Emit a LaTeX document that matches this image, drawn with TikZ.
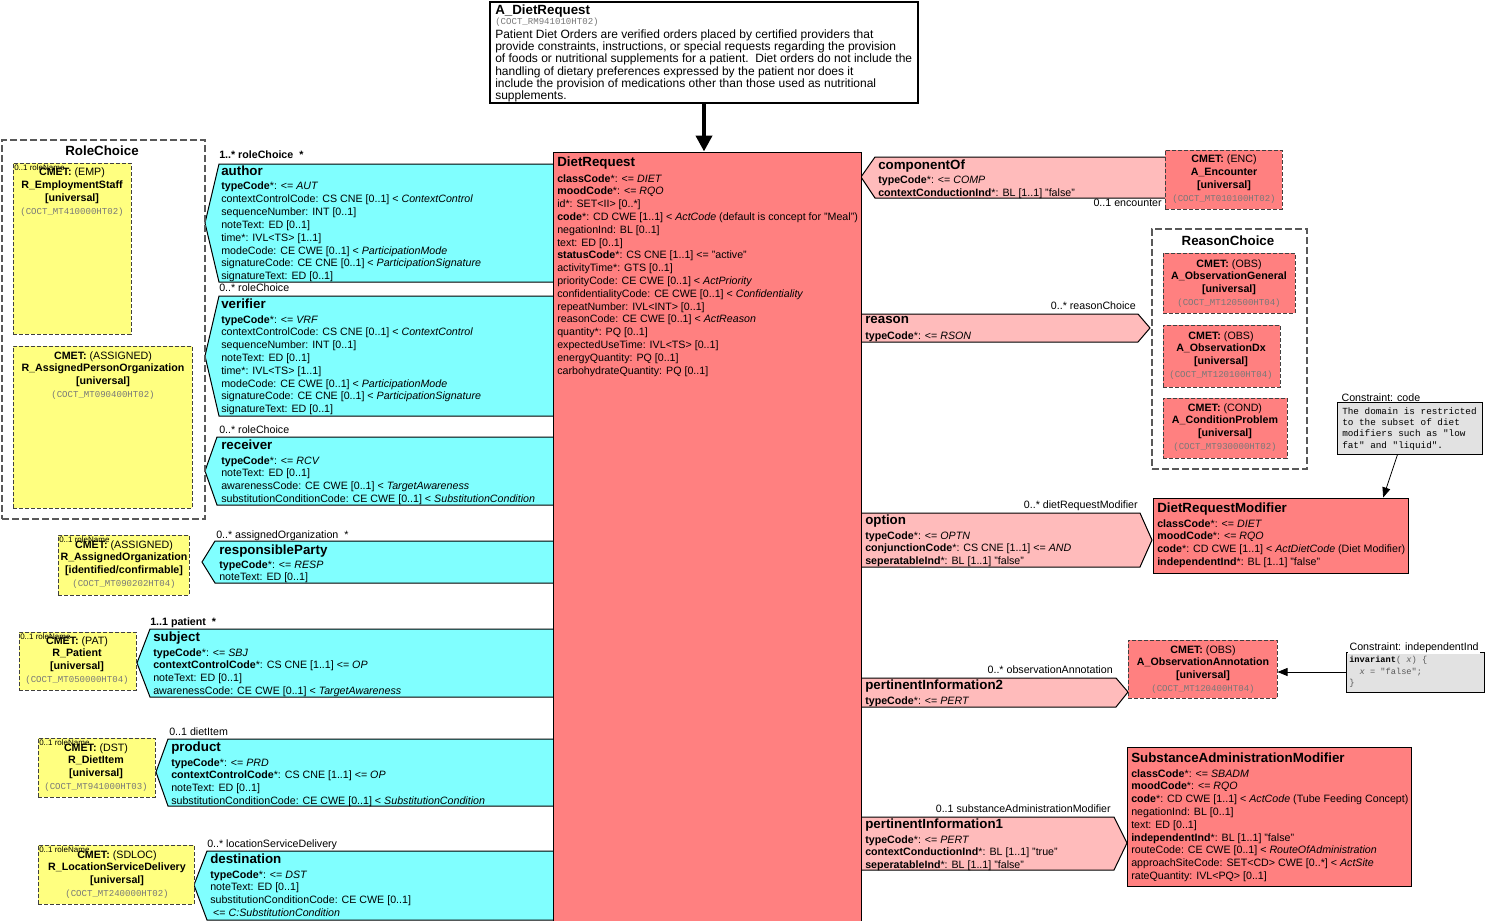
\documentclass[tikz,border=0pt]{standalone}
\usepackage{fontspec}
\setmainfont{Liberation Sans}
\newfontfamily\monofont{Liberation Mono}
\usepackage{tikz}
\usetikzlibrary{arrows.meta,positioning,fit}

\definecolor{actred}{RGB}{255,128,128}
\definecolor{actpink}{RGB}{255,187,187}
\definecolor{rolecyan}{RGB}{128,255,255}
\definecolor{cmetyellow}{RGB}{255,255,128}
\definecolor{notegray}{RGB}{226,226,226}
\definecolor{codegray}{RGB}{120,120,120}
\newcommand{\cmetid}[1]{{\monofont\fontsize{6.8}{8}\selectfont\color{codegray}#1}}

\tikzset{
  attr/.style={anchor=north west, inner sep=0pt, align=left, font=\fontsize{8}{9.6}\selectfont},
  clsname/.style={anchor=north west, inner sep=0pt, font=\fontsize{10}{12}\selectfont\bfseries},
  assoc/.style={anchor=north west, inner sep=0pt, font=\fontsize{8}{9.6}\selectfont},
  cmettext/.style={anchor=north, inner sep=0pt, align=center, font=\fontsize{8}{9.7}\selectfont},
  rolename/.style={anchor=north west, inner sep=0pt, font=\fontsize{6}{7}\selectfont},
  classbox/.style={draw=black, line width=0.75pt, fill=actred, inner sep=0pt},
  cmetbox/.style={draw=black!75, line width=0.75pt, dash pattern=on 3pt off 1.5pt, inner sep=0pt},
  choicebox/.style={draw=black!65, line width=1pt, dash pattern=on 5pt off 2.5pt, inner sep=0pt},
  ptcp/.style={draw=black, line width=0.75pt, fill=rolecyan},
  actrel/.style={draw=black, line width=0.75pt, fill=actpink},
  notebox/.style={draw=black, line width=0.75pt, fill=notegray, inner sep=0pt},
  notetitle/.style={anchor=north west, fill=white, inner xsep=1pt, inner ysep=0.5pt, font=\fontsize{8}{9.6}\selectfont},
  notetext/.style={anchor=north west, inner sep=0pt, align=left, font=\monofont\fontsize{7}{8.6}\selectfont},
  notearrow/.style={line width=0.6pt, -{Triangle[width=6pt,length=7.5pt]}}
}

\begin{document}
\begin{tikzpicture}[x=0.75pt,y=-0.75pt]
\useasboundingbox (0,0) rectangle (1486,921);

% participations on the left
\draw[ptcp] (553,164) -- (219,164) -- (205,223) -- (219,282) -- (553,282);
\draw[ptcp] (553,296) -- (219,296) -- (205,356) -- (219,416) -- (553,416);
\draw[ptcp] (553,437) -- (217,437) -- (205,471) -- (217,505) -- (553,505);
\draw[ptcp] (553,541) -- (215,541) -- (202,562) -- (215,583) -- (553,583);
\draw[ptcp] (553,629) -- (150,629) -- (137,663) -- (150,697) -- (553,697);
\draw[ptcp] (553,739) -- (168,739) -- (156,772) -- (168,806) -- (553,806);
\draw[ptcp] (553,851) -- (207,851) -- (194,885) -- (207,920) -- (553,920);

% act relationships on the right
\draw[actrel] (1165,157) -- (875,157) -- (861,177) -- (875,198) -- (1165,198);
\draw[actrel] (861,314) -- (1138,314) -- (1150,328) -- (1138,342) -- (861,342);
\draw[actrel] (861,513) -- (1140,513) -- (1152,540) -- (1140,567) -- (861,567);
\draw[actrel] (861,678) -- (1116,678) -- (1128,692) -- (1116,707) -- (861,707);
\draw[actrel] (861,817) -- (1114,817) -- (1127,843) -- (1114,870) -- (861,870);

% choice boxes
\node[choicebox, fit={(2,140) (205,519)}] (rolechoice) {};
\node[choicebox, fit={(1152,229) (1307,469)}] (reasonchoice) {};
\node[clsname, anchor=north] (rolechoice-lbl) at (102,146) {RoleChoice};
\node[clsname, anchor=north] (reasonchoice-lbl) at (1228,236) {ReasonChoice};

% CMET boxes
\node[cmetbox, fill=cmetyellow, fit={(13,163) (131,334)}] (empstaff) {};
\node[cmetbox, fill=cmetyellow, fit={(13,346) (192,508)}] (assignedperson) {};
\node[cmetbox, fill=cmetyellow, fit={(58,535) (189,595)}] (assignedorg) {};
\node[cmetbox, fill=cmetyellow, fit={(19,632) (136,690)}] (patient) {};
\node[cmetbox, fill=cmetyellow, fit={(38,738) (155,797)}] (dietitem) {};
\node[cmetbox, fill=cmetyellow, fit={(38,845) (194,904)}] (locsvc) {};
\node[cmetbox, fill=actred, fit={(1165,150) (1282,209)}] (encounter) {};
\node[cmetbox, fill=actred, fit={(1163,253) (1295,313)}] (obsgeneral) {};
\node[cmetbox, fill=actred, fit={(1163,325) (1280,387)}] (obsdx) {};
\node[cmetbox, fill=actred, fit={(1163,398) (1287,458)}] (condproblem) {};
\node[cmetbox, fill=actred, fit={(1128,640) (1277,698)}] (obsannot) {};

\node[cmettext] (empstaff-txt) at (72,168) {\textbf{CMET:} (EMP)\\\textbf{R\_EmploymentStaff}\\\textbf{[universal]}\\\cmetid{(COCT\_MT410000HT02)}};
\node[cmettext] (assignedperson-txt) at (103,351) {\textbf{CMET:} (ASSIGNED)\\\textbf{R\_AssignedPersonOrganization}\\\textbf{[universal]}\\\cmetid{(COCT\_MT090400HT02)}};
\node[cmettext] (assignedorg-txt) at (124,540) {\textbf{CMET:} (ASSIGNED)\\\textbf{R\_AssignedOrganization}\\\textbf{[identified/confirmable]}\\\cmetid{(COCT\_MT090202HT04)}};
\node[cmettext] (patient-txt) at (77,636) {\textbf{CMET:} (PAT)\\\textbf{R\_Patient}\\\textbf{[universal]}\\\cmetid{(COCT\_MT050000HT04)}};
\node[cmettext] (dietitem-txt) at (96,743) {\textbf{CMET:} (DST)\\\textbf{R\_DietItem}\\\textbf{[universal]}\\\cmetid{(COCT\_MT941000HT03)}};
\node[cmettext] (locsvc-txt) at (117,850) {\textbf{CMET:} (SDLOC)\\\textbf{R\_LocationServiceDelivery}\\\textbf{[universal]}\\\cmetid{(COCT\_MT240000HT02)}};
\node[cmettext] (encounter-txt) at (1224,155) {\textbf{CMET:} (ENC)\\\textbf{A\_Encounter}\\\textbf{[universal]}\\\cmetid{(COCT\_MT010100HT02)}};
\node[cmettext] (obsgeneral-txt) at (1229,259) {\textbf{CMET:} (OBS)\\\textbf{A\_ObservationGeneral}\\\textbf{[universal]}\\\cmetid{(COCT\_MT120500HT04)}};
\node[cmettext] (obsdx-txt) at (1221,331) {\textbf{CMET:} (OBS)\\\textbf{A\_ObservationDx}\\\textbf{[universal]}\\\cmetid{(COCT\_MT120100HT04)}};
\node[cmettext] (condproblem-txt) at (1225,403) {\textbf{CMET:} (COND)\\\textbf{A\_ConditionProblem}\\\textbf{[universal]}\\\cmetid{(COCT\_MT930000HT02)}};
\node[cmettext] (obsannot-txt) at (1203,645) {\textbf{CMET:} (OBS)\\\textbf{A\_ObservationAnnotation}\\\textbf{[universal]}\\\cmetid{(COCT\_MT120400HT04)}};

\node[rolename] (empstaff-rn) at (14,164) {0..1 roleName};
\node[rolename] (assignedorg-rn) at (59,536) {0..1 roleName};
\node[rolename] (patient-rn) at (20,633) {0..1 roleName};
\node[rolename] (dietitem-rn) at (39,739) {0..1 roleName};
\node[rolename] (locsvc-rn) at (39,846) {0..1 roleName};

% classes
\node[classbox, fit={(553,152) (861,925)}] (dietreq) {};
\node[classbox, fit={(1153,498) (1408,573)}] (dietmod) {};
\node[classbox, fit={(1127,747) (1411,886)}] (sbadm) {};
\node[draw, line width=2.2pt, fill=white, inner sep=0pt, fit={(490,2) (918,103)}] (topbox) {};

% entry point
\node[clsname] (topbox-name) at (495,5) {A\_DietRequest};
\node[anchor=north west, inner sep=0pt] (topbox-id) at (495,18) {\cmetid{(COCT\_RM941010HT02)}};
\node[attr, font=\fontsize{9}{9.15}\selectfont] (topbox-txt) at (495,29.5) {Patient Diet Orders are verified orders placed by certified providers that\\provide constraints, instructions, or special requests regarding the provision\\of foods or nutritional supplements for a patient.\ \ Diet orders do not include the\\handling of dietary preferences expressed by the patient nor does it\\include the provision of medications other than those used as nutritional\\supplements.};

% DietRequest
\node[clsname] (dietreq-name) at (557,157) {DietRequest};
\node[attr] (dietreq-attr) at (557,174) {\textbf{classCode}*: <= \textit{DIET}\\\textbf{moodCode}*: <= \textit{RQO}\\id*: SET<II> [0..*]\\\textbf{code}*: CD CWE [1..1] < \textit{ActCode} (default is concept for "Meal")\\negationInd: BL [0..1]\\text: ED [0..1]\\\textbf{statusCode}*: CS CNE [1..1] <= "active"\\activityTime*: GTS [0..1]\\priorityCode: CE CWE [0..1] < \textit{ActPriority}\\confidentialityCode: CE CWE [0..1] < \textit{Confidentiality}\\repeatNumber: IVL<INT> [0..1]\\reasonCode: CE CWE [0..1] < \textit{ActReason}\\quantity*: PQ [0..1]\\expectedUseTime: IVL<TS> [0..1]\\energyQuantity: PQ [0..1]\\carbohydrateQuantity: PQ [0..1]};

% author
\node[assoc, font=\fontsize{8}{9.6}\selectfont\bfseries] (author-lbl) at (219,151) {1..* roleChoice\ \ *};
\node[clsname] (author-name) at (221,166) {author};
\node[attr] (author-attr) at (221,182) {\textbf{typeCode}*: <= \textit{AUT}\\contextControlCode: CS CNE [0..1] < \textit{ContextControl}\\sequenceNumber: INT [0..1]\\noteText: ED [0..1]\\time*: IVL<TS> [1..1]\\modeCode: CE CWE [0..1] < \textit{ParticipationMode}\\signatureCode: CE CNE [0..1] < \textit{ParticipationSignature}\\signatureText: ED [0..1]};

% verifier
\node[assoc] (verifier-lbl) at (219,284) {0..* roleChoice};
\node[clsname] (verifier-name) at (221,299) {verifier};
\node[attr] (verifier-attr) at (221,315) {\textbf{typeCode}*: <= \textit{VRF}\\contextControlCode: CS CNE [0..1] < \textit{ContextControl}\\sequenceNumber: INT [0..1]\\noteText: ED [0..1]\\time*: IVL<TS> [1..1]\\modeCode: CE CWE [0..1] < \textit{ParticipationMode}\\signatureCode: CE CNE [0..1] < \textit{ParticipationSignature}\\signatureText: ED [0..1]};

% receiver
\node[assoc] (receiver-lbl) at (219,425) {0..* roleChoice};
\node[clsname] (receiver-name) at (221,440) {receiver};
\node[attr] (receiver-attr) at (221,456) {\textbf{typeCode}*: <= \textit{RCV}\\noteText: ED [0..1]\\awarenessCode: CE CWE [0..1] < \textit{TargetAwareness}\\substitutionConditionCode: CE CWE [0..1] < \textit{SubstitutionCondition}};

% responsibleParty
\node[assoc] (respparty-lbl) at (216,530) {0..* assignedOrganization\ \ *};
\node[clsname] (respparty-name) at (219,545) {responsibleParty};
\node[attr] (respparty-attr) at (219,560) {\textbf{typeCode}*: <= \textit{RESP}\\noteText: ED [0..1]};

% subject
\node[assoc, font=\fontsize{8}{9.6}\selectfont\bfseries] (subject-lbl) at (150,617) {1..1 patient\ \ *};
\node[clsname] (subject-name) at (153,632) {subject};
\node[attr] (subject-attr) at (153,648) {\textbf{typeCode}*: <= \textit{SBJ}\\\textbf{contextControlCode}*: CS CNE [1..1] <= \textit{OP}\\noteText: ED [0..1]\\awarenessCode: CE CWE [0..1] < \textit{TargetAwareness}};

% product
\node[assoc] (product-lbl) at (169,727) {0..1 dietItem};
\node[clsname] (product-name) at (171,742) {product};
\node[attr] (product-attr) at (171,758) {\textbf{typeCode}*: <= \textit{PRD}\\\textbf{contextControlCode}*: CS CNE [1..1] <= \textit{OP}\\noteText: ED [0..1]\\substitutionConditionCode: CE CWE [0..1] < \textit{SubstitutionCondition}};

% destination
\node[assoc] (destination-lbl) at (207,839) {0..* locationServiceDelivery};
\node[clsname] (destination-name) at (210,854) {destination};
\node[attr] (destination-attr) at (210,870) {\textbf{typeCode}*: <= \textit{DST}\\noteText: ED [0..1]\\substitutionConditionCode: CE CWE [0..1]\\\ <= \textit{C:SubstitutionCondition}};

% componentOf
\node[clsname] (componentof-name) at (878,160) {componentOf};
\node[attr] (componentof-attr) at (878,176) {\textbf{typeCode}*: <= \textit{COMP}\\\textbf{contextConductionInd}*: BL [1..1] "false"};
\node[assoc, anchor=north east] (componentof-lbl) at (1162,199) {0..1 encounter};

% reason
\node[assoc, anchor=north east] (reason-lbl) at (1136,301) {0..* reasonChoice};
\node[clsname] (reason-name) at (865,316) {reason};
\node[attr] (reason-attr) at (865,332) {\textbf{typeCode}*: <= \textit{RSON}};

% option
\node[assoc, anchor=north east] (option-lbl) at (1138,500) {0..* dietRequestModifier};
\node[clsname] (option-name) at (865,515) {option};
\node[attr] (option-attr) at (865,531) {\textbf{typeCode}*: <= \textit{OPTN}\\\textbf{conjunctionCode}*: CS CNE [1..1] <= \textit{AND}\\\textbf{seperatableInd}*: BL [1..1] "false"};

% pertinentInformation2
\node[assoc, anchor=north east] (pertinfo2-lbl) at (1113,665) {0..* observationAnnotation};
\node[clsname] (pertinfo2-name) at (865,680) {pertinentInformation2};
\node[attr] (pertinfo2-attr) at (865,696) {\textbf{typeCode}*: <= \textit{PERT}};

% pertinentInformation1
\node[assoc, anchor=north east] (pertinfo1-lbl) at (1111,804) {0..1 substanceAdministrationModifier};
\node[clsname] (pertinfo1-name) at (865,819) {pertinentInformation1};
\node[attr] (pertinfo1-attr) at (865,835) {\textbf{typeCode}*: <= \textit{PERT}\\\textbf{contextConductionInd}*: BL [1..1] "true"\\\textbf{seperatableInd}*: BL [1..1] "false"};

% DietRequestModifier
\node[clsname] (dietmod-name) at (1157,503) {DietRequestModifier};
\node[attr] (dietmod-attr) at (1157,519) {\textbf{classCode}*: <= \textit{DIET}\\\textbf{moodCode}*: <= \textit{RQO}\\\textbf{code}*: CD CWE [1..1] < \textit{ActDietCode} (Diet Modifier)\\\textbf{independentInd}*: BL [1..1] "false"};

% SubstanceAdministrationModifier
\node[clsname] (sbadm-name) at (1131,753) {SubstanceAdministrationModifier};
\node[attr] (sbadm-attr) at (1131,769) {\textbf{classCode}*: <= \textit{SBADM}\\\textbf{moodCode}*: <= \textit{RQO}\\\textbf{code}*: CD CWE [1..1] < \textit{ActCode} (Tube Feeding Concept)\\negationInd: BL [0..1]\\text: ED [0..1]\\\textbf{independentInd}*: BL [1..1] "false"\\routeCode: CE CWE [0..1] < \textit{RouteOfAdministration}\\approachSiteCode: SET<CD> CWE [0..*] < \textit{ActSite}\\rateQuantity: IVL<PQ> [0..1]};

% constraints
\node[notebox, fit={(1337,402) (1482,454)}] (codenote) {};
\node[notetitle] (codenote-lbl) at (1340,393) {Constraint: code};
\node[notetext] (codenote-txt) at (1342,407) {The domain is restricted\\to the subset of diet\\modifiers such as "low\\fat" and "liquid".};
\node[notebox, fit={(1346,652) (1484,692)}] (indepnote) {};
\node[notetitle] (indepnote-lbl) at (1348,642) {Constraint: independentInd};
\node[notetext, font=\monofont\fontsize{6.5}{8.6}\selectfont, text=black!65] (indepnote-txt) at (1349,656) {\textcolor{black}{\textbf{invariant}}( \textit{x}) \{\\\ \ \textit{x} = "false";\\\}};

% connectors
\draw[line width=3pt, -{Triangle[width=12pt,length=12pt]}] (topbox.south) -- (topbox.south |- dietreq.north);
\draw[notearrow] ([xshift=-9pt]codenote.south) -- ([xshift=77pt]dietmod.north);
\draw[notearrow] (indepnote.west) -- (indepnote.west -| obsannot.east);

\end{tikzpicture}
\end{document}
